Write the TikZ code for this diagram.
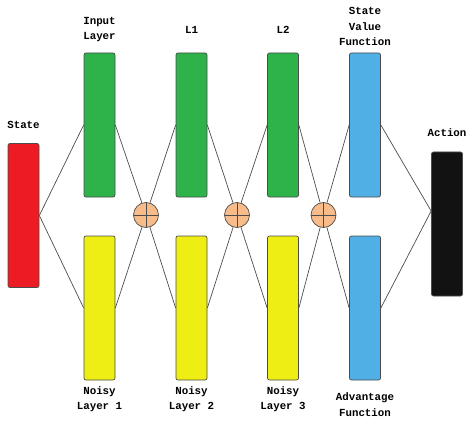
\documentclass[tikz,border=0pt]{standalone}
\usepackage{fontspec}
\setmonofont{Liberation Mono}
\definecolor{statered}{HTML}{ED1C24}
\definecolor{layergreen}{HTML}{2DB34A}
\definecolor{noisyyellow}{HTML}{EEEE14}
\definecolor{valueblue}{HTML}{50B0E6}
\definecolor{actionblack}{HTML}{121212}
\definecolor{sumorange}{HTML}{F8BB8A}
\begin{document}
\begin{tikzpicture}[x=1pt,y=-1pt,
  layer/.style={draw=black!70, line width=0.7pt, rounded corners=2pt, minimum width=31pt, minimum height=144pt, inner sep=0pt},
  plus/.style={circle, draw=black!70, line width=0.7pt, fill=sumorange, minimum size=25pt, inner sep=0pt,
    path picture={\draw[black!70, line width=0.7pt] (path picture bounding box.north) -- (path picture bounding box.south)
      (path picture bounding box.west) -- (path picture bounding box.east);}},
  lbl/.style={font=\ttfamily\bfseries\fontsize{10.8}{15.5}\selectfont, align=center},
  wire/.style={draw=black!70, line width=0.7pt}]
\useasboundingbox (0,0) rectangle (474,425);

% boxes
\node[layer, fill=statered] (state) at (23.5,215.5) {};
\node[layer, fill=actionblack] (act) at (447,224) {};
\foreach \n/\x/\c in {in/99.5/layergreen, l1/191.5/layergreen, l2/283/layergreen, sv/365/valueblue}
  \node[layer, fill=\c] (\n) at (\x,125) {};
\foreach \n/\x/\c in {n1/99.5/noisyyellow, n2/191.5/noisyyellow, n3/283/noisyyellow, adv/365/valueblue}
  \node[layer, fill=\c] (\n) at (\x,308) {};
\foreach \n/\x in {c1/146, c2/237, c3/323.5}
  \node[plus] (\n) at (\x,215) {};
\coordinate (actin) at ([yshift=13pt]act.west);

% labels
\node[lbl] (statelbl) at (23.5,125) {State};
\node[lbl] (actlbl) at (447,133) {Action};
\node[lbl] (inlbl) at (99.5,29.5) {Input\\Layer};
\node[lbl] (l1lbl) at (191.5,30) {L1};
\node[lbl] (l2lbl) at (283,30) {L2};
\node[lbl] (svlbl) at (365,26.5) {State\\Value\\Function};
\node[lbl] (n1lbl) at (99.5,399) {Noisy\\Layer 1};
\node[lbl] (n2lbl) at (191.5,399) {Noisy\\Layer 2};
\node[lbl] (n3lbl) at (283,399) {Noisy\\Layer 3};
\node[lbl] (advlbl) at (365,404.5) {Advantage\\Function};

% connections
\foreach \b in {in, n1} \draw[wire] (state.east) -- (\b.west);
\foreach \a/\c/\b/\d in {in/c1/l1/n1, l1/c2/l2/n2, l2/c3/sv/n3}
  \draw[wire] (\a.east) -- (\c) (\d.east) -- (\c) (\c) -- (\b.west);
\foreach \c/\b in {c1/n2, c2/n3, c3/adv}
  \draw[wire] (\c) -- (\b.west);
\foreach \a in {sv, adv} \draw[wire] (\a.east) -- (actin);
\end{tikzpicture}
\end{document}
